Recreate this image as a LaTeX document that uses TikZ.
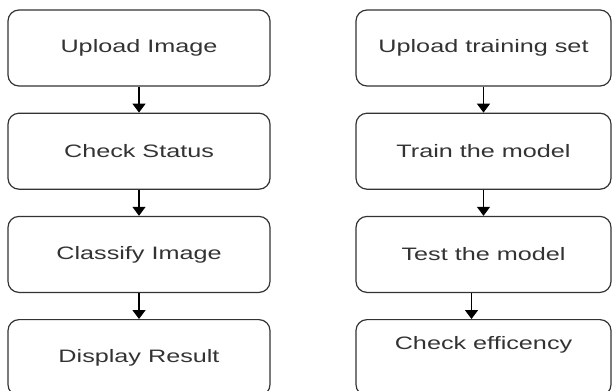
\documentclass[tikz,border=0pt]{standalone}
\usepackage{fontspec}
\setmainfont{Liberation Sans}
\usepackage{graphicx}
\usetikzlibrary{arrows.meta,positioning}
\newcommand{\wtext}[1]{\scalebox{1.4}[1]{#1}}

\begin{document}
\begin{tikzpicture}[x=1bp,y=1bp,
  stagebox/.style={draw=black!80,line width=1.2bp,rounded corners=11bp,
    minimum height=76bp,inner sep=0pt,text=black!80,
    font=\fontsize{18bp}{20bp}\selectfont},
  leftbox/.style={stagebox,minimum width=262bp},
  rightbox/.style={stagebox,minimum width=255bp},
  flow/.style={draw=black,line width=1.4bp,-{Triangle[width=13bp,length=9bp]}},
  node distance=26bp]
\useasboundingbox (0,0) rectangle (612,-390);
% classification side
\node[leftbox] (upload) at (139,-48) {\wtext{Upload Image}};
\node[leftbox,below=of upload] (status) {\wtext{Check Status}};
\node[leftbox,below=of status] (classify) {\wtext{Classify Image}};
\node[leftbox,below=of classify] (result) {\wtext{Display Result}};
% training side
\node[rightbox] (trainset) at (483.5,-48) {\wtext{Upload training set}};
\node[rightbox,below=of trainset] (train) {\wtext{Train the model}};
\node[rightbox,below=of train] (test) {\wtext{Test the model}};
\node[rightbox,below=of test] (effic) {\raisebox{8bp}[0pt][0pt]{\wtext{Check efficency}}};
\draw[flow] (upload) -- (status);
\draw[flow] (status) -- (classify);
\draw[flow] (classify) -- (result);
\draw[flow] (trainset) -- (train);
\draw[flow] (train) -- (test);
\draw[flow] ([xshift=-12bp]test.south) -- ([xshift=-12bp]effic.north);
\end{tikzpicture}
\end{document}
